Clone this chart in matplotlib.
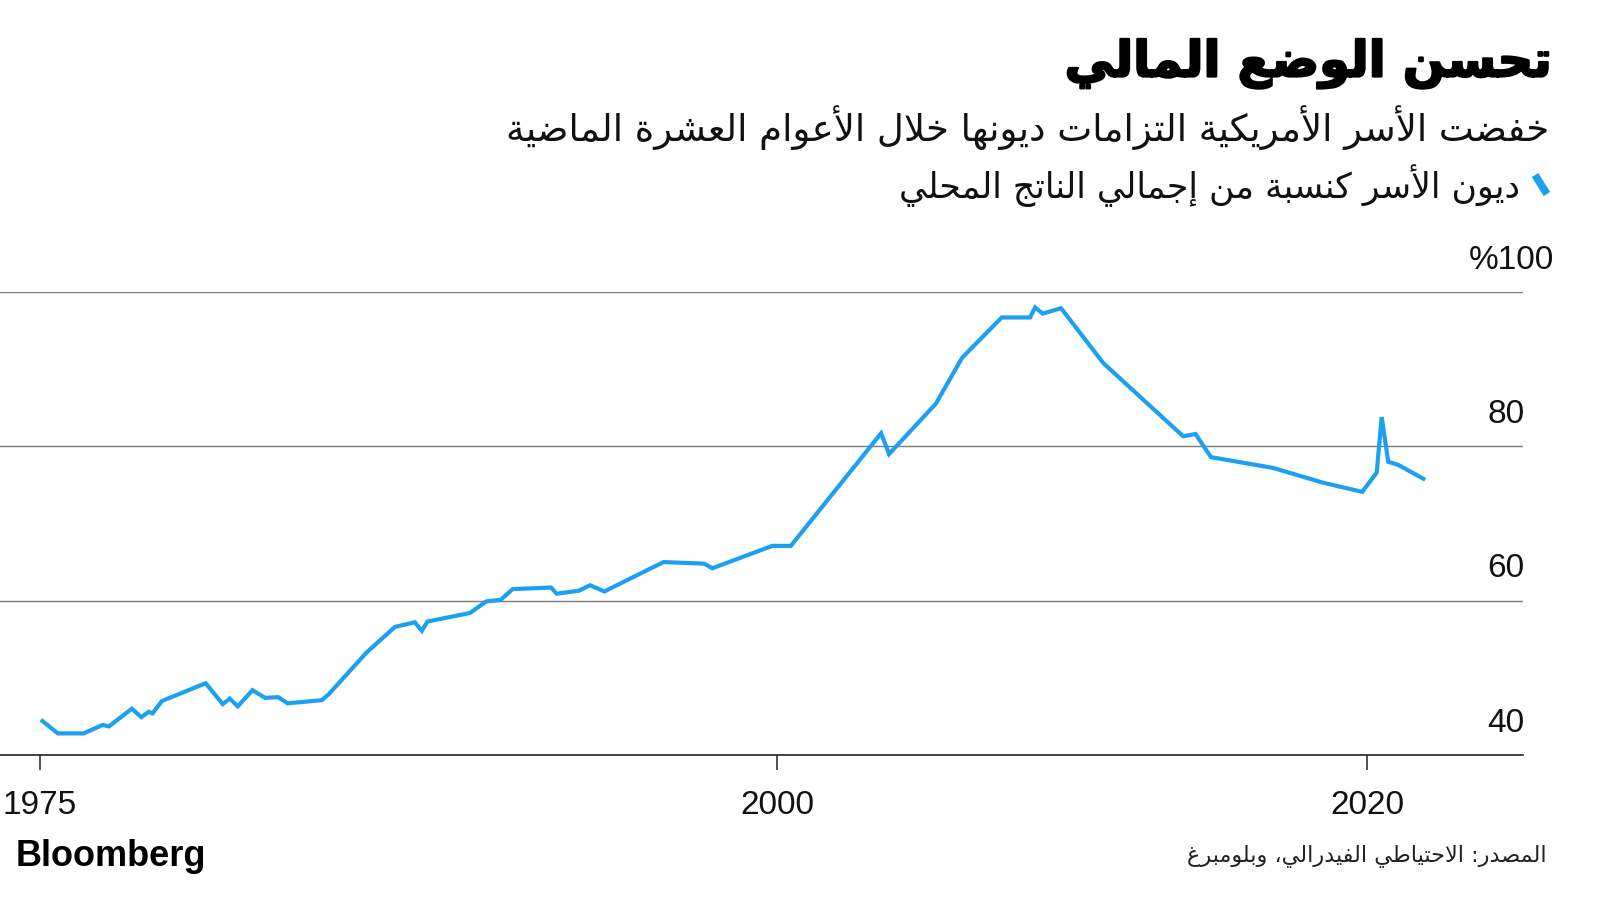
import matplotlib
matplotlib.use('Agg')
import matplotlib.pyplot as plt
import matplotlib.patheffects as pe
from matplotlib.lines import Line2D


#______________________________DATA____________________________________________
# household debt as % of GDP
years = [1975.09, 1975.61, 1976.49, 1977.13, 1977.34, 1978.12, 1978.44, 1978.69,
         1978.82, 1979.14, 1979.72, 1980.62, 1981.20, 1981.44, 1981.71, 1982.21,
         1982.64, 1983.08, 1983.40, 1984.56, 1984.80, 1986.08, 1987.04, 1987.71,
         1987.95, 1988.14, 1989.58, 1990.13, 1990.62, 1991.03, 1992.33, 1992.52,
         1993.28, 1993.65, 1994.14, 1996.14, 1997.52, 1997.80, 1999.83, 2000.46,
         2003.52, 2003.79, 2005.37, 2006.27, 2007.61, 2008.57, 2008.74, 2009.00,
         2009.62, 2011.05, 2013.76, 2014.18, 2014.70, 2016.81, 2018.49, 2019.83,
         2020.32, 2020.49, 2020.71, 2021.05, 2021.90]
debt_pct = [44.4, 42.8, 42.8, 43.9, 43.7, 46.0, 44.9, 45.6,
            45.4, 47.0, 47.9, 49.3, 46.6, 47.3, 46.3, 48.4,
            47.4, 47.5, 46.7, 47.1, 47.9, 53.3, 56.6, 57.2,
            56.1, 57.3, 58.4, 59.9, 60.1, 61.5, 61.7, 60.9,
            61.3, 62.0, 61.2, 65.0, 64.8, 64.2, 67.1, 67.1,
            81.7, 79.0, 85.5, 91.5, 96.7, 96.7, 98.0, 97.2,
            97.9, 90.8, 81.3, 81.6, 78.6, 77.2, 75.3, 74.1,
            76.6, 83.8, 78.0, 77.6, 75.8]

x_ticks = [1975, 2000, 2020]
x_tick_labels = ['1975', '2000', '2020']
y_ticks = [40, 60, 80, 100]
y_tick_labels = ['40', '60', '80', '%100']

title = 'تحسن الوضع المالي'
subtitle = 'خفضت الأسر الأمريكية التزامات ديونها خلال الأعوام العشرة الماضية'
series_label = 'ديون الأسر كنسبة من إجمالي الناتج المحلي'
source = 'المصدر: الاحتياطي الفيدرالي، وبلومبرغ'

BLUE = '#1ca0ef'


#______________________________ARABIC SHAPING__________________________________
# matplotlib does no shaping, so map letters to presentation forms by hand
# (first code point in Presentation Forms-B, number of forms)
FORMS = {
    'ء': (0xFE80, 1), 'آ': (0xFE81, 2), 'أ': (0xFE83, 2), 'ؤ': (0xFE85, 2),
    'إ': (0xFE87, 2), 'ئ': (0xFE89, 4), 'ا': (0xFE8D, 2), 'ب': (0xFE8F, 4),
    'ة': (0xFE93, 2), 'ت': (0xFE95, 4), 'ث': (0xFE99, 4), 'ج': (0xFE9D, 4),
    'ح': (0xFEA1, 4), 'خ': (0xFEA5, 4), 'د': (0xFEA9, 2), 'ذ': (0xFEAB, 2),
    'ر': (0xFEAD, 2), 'ز': (0xFEAF, 2), 'س': (0xFEB1, 4), 'ش': (0xFEB5, 4),
    'ص': (0xFEB9, 4), 'ض': (0xFEBD, 4), 'ط': (0xFEC1, 4), 'ظ': (0xFEC5, 4),
    'ع': (0xFEC9, 4), 'غ': (0xFECD, 4), 'ف': (0xFED1, 4), 'ق': (0xFED5, 4),
    'ك': (0xFED9, 4), 'ل': (0xFEDD, 4), 'م': (0xFEE1, 4), 'ن': (0xFEE5, 4),
    'ه': (0xFEE9, 4), 'و': (0xFEED, 2), 'ى': (0xFEEF, 2), 'ي': (0xFEF1, 4),
}
LAM_ALEF = {'آ': 0xFEF5, 'أ': 0xFEF7, 'إ': 0xFEF9, 'ا': 0xFEFB}


def shape_ar(text):
    out = []
    prev_joins = False
    i = 0
    n = len(text)
    while i < n:
        c = text[i]
        if c not in FORMS:
            out.append(c)
            prev_joins = False
            i += 1
            continue
        nxt = text[i + 1] if i + 1 < n else ''
        # lam + alef ligature
        if c == 'ل' and nxt in LAM_ALEF:
            out.append(chr(LAM_ALEF[nxt] + (1 if prev_joins else 0)))
            prev_joins = False
            i += 2
            continue
        base, nforms = FORMS[c]
        next_ok = nforms == 4 and nxt in FORMS
        if nforms == 1:
            code = base
        elif prev_joins and next_ok:
            code = base + 3
        elif prev_joins:
            code = base + 1
        elif next_ok:
            code = base + 2
        else:
            code = base
        out.append(chr(code))
        prev_joins = next_ok
        i += 1
    return ''.join(reversed(out))


#______________________________PLOT____________________________________________
fig = plt.figure(figsize=(16, 9), dpi=100)
fig.patch.set_facecolor('white')

# axes placed in pixels: x 0..1523, y 292(top=100)..755(bottom=40)
ax = fig.add_axes([0, (900 - 755) / 900, 1523 / 1600, (755 - 292) / 900])
ax.plot(years, debt_pct, color=BLUE, lw=3.0, solid_joinstyle='miter', clip_on=False, zorder=3)

ax.set_xlim(1973.65, 2025.28)
ax.set_ylim(40, 100)

for s in ['top', 'right', 'left']:
    ax.spines[s].set_visible(False)
ax.spines['bottom'].set_color('#222222')
ax.spines['bottom'].set_linewidth(1.2)

ax.set_yticks(y_ticks)
ax.yaxis.grid(True, color='#7a7a7a', lw=1.0)
ax.tick_params(axis='y', left=False, labelleft=False)
ax.set_axisbelow(True)

for val, lab in zip(y_ticks, y_tick_labels):
    dx = 22 if lab.startswith('%') else 1
    ax.annotate(lab, xy=(1, val), xycoords=('axes fraction', 'data'),
                xytext=(dx, 23), textcoords='offset points',
                ha='right', va='center', fontsize=24, family='Liberation Sans',
                color='#111111')

ax.set_xticks(x_ticks)
ax.set_xticklabels(x_tick_labels, family='Liberation Sans', fontsize=24, color='#111111')
ax.tick_params(axis='x', direction='out', length=11, width=1.1, color='#222222', pad=14)

# texts
title_t = fig.text(1551 / 1600, 1 - 64 / 900, shape_ar(title), ha='right', va='center',
                   fontsize=34, fontweight='bold', family='DejaVu Sans', color='black',
                   path_effects=[pe.withStroke(linewidth=1.6, foreground='black')])
sub_t = fig.text(1549 / 1600, 1 - 128 / 900, shape_ar(subtitle), ha='right', va='center',
                 fontsize=24, family='DejaVu Sans', color='#111111')
leg_t = fig.text(1520 / 1600, 1 - 186 / 900, shape_ar(series_label), ha='right', va='center',
                 fontsize=22, family='DejaVu Sans', color='#111111')
src_t = fig.text(1547 / 1600, 1 - 856 / 900, shape_ar(source), ha='right', va='center',
                 fontsize=13, family='DejaVu Sans', color='#222222')
fig.text(16 / 1600, 1 - 866 / 900, 'Bloomberg', ha='left', va='baseline',
         fontsize=26, fontweight='bold', family='Liberation Sans', color='black')

# legend swatch: short slanted stroke
fig.add_artist(Line2D([1535 / 1600, 1547 / 1600], [1 - 175 / 900, 1 - 194 / 900],
                      color=BLUE, lw=5.5, solid_capstyle='butt'))

# scale Arabic text to the widths seen in the reference
renderer = fig.canvas.get_renderer()
for t, target in [(title_t, 487), (sub_t, 1051), (leg_t, 624), (src_t, 360)]:
    w = t.get_window_extent(renderer).width
    t.set_fontsize(t.get_fontsize() * target / w)

fig.savefig('out.png', dpi=100, facecolor='white')
